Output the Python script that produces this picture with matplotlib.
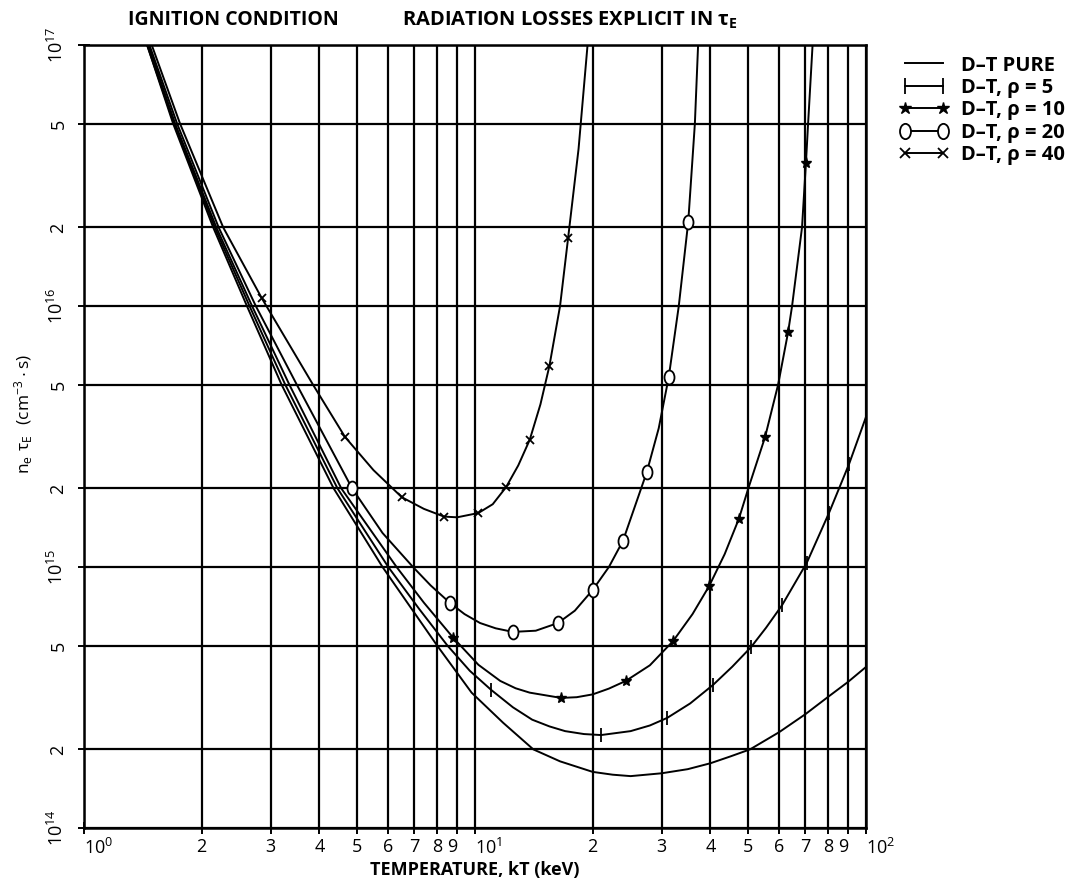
"""
Zündbedingung D-T: n_e tau_E über der Temperatur, mit Strahlungsverlusten
"""

import matplotlib
matplotlib.use("Agg")
import matplotlib.pyplot as plt
from matplotlib.lines import Line2D
from matplotlib.path import Path
from matplotlib.transforms import Affine2D
from matplotlib.ticker import FixedLocator, FixedFormatter

plt.rcParams['font.family'] = ['Open Sans', 'DejaVu Sans']
plt.rcParams['mathtext.fontset'] = 'custom'
plt.rcParams['mathtext.rm'] = 'Open Sans'
plt.rcParams['mathtext.it'] = 'Open Sans'
plt.rcParams['mathtext.bf'] = 'Open Sans:bold'

# --- Daten, T in keV, n_e tau_E in cm^-3 s ---
t_pure = [1.45, 1.69, 2.14, 2.61, 3.2, 4.35, 5.8, 8.0, 8.9, 9.8, 11.8, 14.1, 16.5, 20, 22.5,
          25, 30, 35, 40, 45, 50.5, 60, 70, 80, 90, 100]
n_pure = [1e17, 5e16, 2e16, 1e16, 5e15, 2e15, 1e15, 5e14, 4.02e14, 3.3e14, 2.53e14, 2.0e14,
          1.8e14, 1.64e14, 1.6e14, 1.58e14, 1.62e14, 1.68e14, 1.77e14, 1.88e14, 2.0e14,
          2.33e14, 2.73e14, 3.18e14, 3.63e14, 4.14e14]

t_p5 = [1.45, 1.7, 2.16, 2.65, 3.27, 4.45, 6.0, 7.2, 8.5, 9.7, 11.0, 12.5, 14.0, 15.5, 17.0,
        19.0, 21.0, 25.0, 28.0, 31.0, 35.5, 40.6, 45.5, 50.8, 55.5, 61.0, 70.6, 80.4, 90.5, 100]
n_p5 = [1e17, 5e16, 2e16, 1e16, 5e15, 2e15, 1e15, 6.9e14, 5e14, 4.0e14, 3.38e14, 2.9e14,
        2.6e14, 2.45e14, 2.35e14, 2.29e14, 2.27e14, 2.35e14, 2.47e14, 2.64e14, 3.0e14,
        3.53e14, 4.15e14, 4.93e14, 5.85e14, 7.14e14, 1.04e15, 1.61e15, 2.48e15, 3.76e15]
mark_p5 = [10, 16, 19, 21, 23, 25, 26, 27, 28]

t_p10 = [1.46, 1.71, 2.18, 2.69, 3.35, 4.55, 6.3, 7.4, 8.8, 10.2, 11.6, 12.7, 13.8, 16.6,
         18.2, 20.0, 22.0, 24.3, 28.0, 32.1, 36.0, 39.7, 43.5, 47.3, 50.0, 55.2, 59.6, 63.2,
         64.7, 68.6, 70.2, 71.1, 73.0]
n_p10 = [1e17, 5e16, 2e16, 1e16, 5e15, 2e15, 1e15, 7.3e14, 5.35e14, 4.22e14, 3.66e14,
         3.43e14, 3.3e14, 3.15e14, 3.17e14, 3.25e14, 3.42e14, 3.66e14, 4.2e14, 5.2e14,
         6.6e14, 8.45e14, 1.12e15, 1.53e15, 2.0e15, 3.15e15, 5.0e15, 7.94e15, 1.0e16,
         2.0e16, 3.53e16, 5e16, 1e17]
mark_p10 = [8, 13, 17, 19, 21, 23, 25, 27, 30]

t_p20 = [1.47, 1.73, 2.21, 2.75, 3.5, 4.85, 5.8, 6.94, 7.7, 8.63, 9.4, 10.3, 11.3, 12.5,
         14.3, 16.3, 18.0, 20.0, 22.0, 23.9, 27.5, 29.5, 31.3, 33.2, 35.1, 36.5, 37.2]
n_p20 = [1e17, 5e16, 2e16, 1e16, 5e15, 2e15, 1.35e15, 1e15, 8.5e14, 7.28e14, 6.6e14,
         6.1e14, 5.82e14, 5.64e14, 5.7e14, 6.1e14, 6.8e14, 8.17e14, 1.0e15, 1.26e15,
         2.31e15, 3.4e15, 5.35e15, 1e16, 2.1e16, 5e16, 1e17]
mark_p20 = [5, 9, 13, 15, 17, 19, 20, 22, 24]

t_p40 = [1.49, 1.76, 2.27, 2.85, 3.85, 4.65, 5.5, 6.5, 7.4, 8.33, 9.0, 10.2, 11.1, 12.0,
         12.9, 13.8, 14.7, 15.5, 16.5, 17.3, 18.4, 19.4]
n_p40 = [1e17, 5e16, 2e16, 1.07e16, 5e15, 3.15e15, 2.35e15, 1.85e15, 1.67e15, 1.56e15,
         1.55e15, 1.61e15, 1.74e15, 2.02e15, 2.45e15, 3.07e15, 4.2e15, 5.9e15, 1e16,
         1.82e16, 4e16, 1e17]
mark_p40 = [3, 5, 7, 9, 11, 13, 15, 17, 19]

legend_labels = ['D–T PURE', 'D–T, ρ = 5', 'D–T, ρ = 10', 'D–T, ρ = 20', 'D–T, ρ = 40']

x_major = [1, 10, 100]
x_major_labels = [r'$\mathregular{10^0}$', r'$\mathregular{10^1}$', r'$\mathregular{10^2}$']
x_minor = [2, 3, 4, 5, 6, 7, 8, 9, 20, 30, 40, 50, 60, 70, 80, 90]
x_minor_labels = ['2', '3', '4', '5', '6', '7', '8', '9'] * 2

y_major = [1e14, 1e15, 1e16, 1e17]
y_major_labels = [r'$\mathregular{10^{14}}$', r'$\mathregular{10^{15}}$',
                  r'$\mathregular{10^{16}}$', r'$\mathregular{10^{17}}$']
y_minor = [2e14, 5e14, 2e15, 5e15, 2e16, 5e16]
y_minor_labels = ['2', '5'] * 3

# Ellipse als Marker (leicht hochkant wie im Original)
ellipse = Path.unit_circle().transformed(Affine2D().scale(0.72, 1.0))

fig = plt.figure(figsize=(10.87, 8.90), dpi=100)
ax = fig.add_axes([0.0773, 0.0697, 0.7194, 0.8797])
ax.set_xscale('log')
ax.set_yscale('log')
ax.set_xlim(1, 100)
ax.set_ylim(1e14, 1e17)

# Gitter
ax.xaxis.set_major_locator(FixedLocator(x_major))
ax.xaxis.set_major_formatter(FixedFormatter(x_major_labels))
ax.xaxis.set_minor_locator(FixedLocator(x_minor))
ax.xaxis.set_minor_formatter(FixedFormatter(x_minor_labels))
ax.yaxis.set_major_locator(FixedLocator(y_major))
ax.yaxis.set_major_formatter(FixedFormatter(y_major_labels))
ax.yaxis.set_minor_locator(FixedLocator(y_minor))
ax.yaxis.set_minor_formatter(FixedFormatter(y_minor_labels))
ax.grid(True, which='both', color='black', linewidth=1.6)
ax.set_axisbelow(True)
for s in ax.spines.values():
    s.set_linewidth(1.8)

ax.tick_params(which='both', direction='inout', length=8, width=1.4, labelsize=13, pad=3)
ax.tick_params(axis='y', which='both', pad=8)
for lab in ax.get_yticklabels(which='both'):
    lab.set_rotation(90)
    lab.set_va('center')
# "9" und "10^1" / "10^2" stehen im Original dicht beieinander
for lab in ax.get_xticklabels(which='major'):
    lab.set_ha('left')
for lab in ax.get_xticklabels(which='minor')[7::8]:
    lab.set_ha('right')

lw = 1.4
ax.plot(t_pure, n_pure, color='k', lw=lw)
ax.plot(t_p5, n_p5, color='k', lw=lw, marker='|', ms=10, mew=1.3, markevery=mark_p5)
ax.plot(t_p10, n_p10, color='k', lw=lw, marker='*', ms=8, markevery=mark_p10)
ax.plot(t_p20, n_p20, color='k', lw=lw, marker=ellipse, ms=10, mew=1.3, mfc='white',
        markevery=mark_p20)
ax.plot(t_p40, n_p40, color='k', lw=lw, marker='x', ms=6, mew=1.3, markevery=mark_p40)

# Legende
handles = [
    Line2D([], [], color='k', lw=lw),
    Line2D([], [], color='k', lw=lw, marker='|', ms=12, mew=1.3),
    Line2D([], [], color='k', lw=lw, marker='*', ms=9),
    Line2D([], [], color='k', lw=lw, marker=ellipse, ms=11, mew=1.3, mfc='white'),
    Line2D([], [], color='k', lw=lw, marker='x', ms=7, mew=1.3),
]
fig.legend(handles, legend_labels, loc='upper left', bbox_to_anchor=(0.81, 0.958),
           frameon=False, numpoints=2, handlelength=2.5, handletextpad=0.6,
           labelspacing=0.12, prop={'size': 14.5, 'weight': 'bold'})

# Beschriftungen
fig.text(0.1178, 0.9775, 'IGNITION CONDITION', fontsize=14, fontweight='bold', va='center')
fig.text(0.37, 0.9775, r'RADIATION LOSSES EXPLICIT IN $\mathregular{\tau_E}$',
         fontsize=14.5, fontweight='bold', va='center')
fig.text(0.437, 0.022, 'TEMPERATURE, kT (keV)', fontsize=13, fontweight='bold',
         ha='center', va='center')
fig.text(0.022, 0.535, r'$\mathregular{n_e\ \tau_E\ \ (cm^{-3}\cdot s)}$', fontsize=12.5,
         rotation=90, ha='center', va='center')

fig.savefig('out.png', dpi=100)
